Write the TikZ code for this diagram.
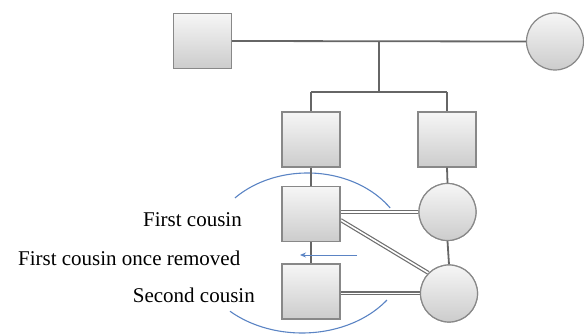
\documentclass[tikz,border=0pt]{standalone}
\usepackage{fontspec}
\setmainfont{Liberation Serif}
\usetikzlibrary{arrows.meta,shadings}
\definecolor{edgegray}{HTML}{888888}
\definecolor{linkgray}{HTML}{666666}
\definecolor{dblgray}{HTML}{6E6E6E}
\definecolor{arcblue}{HTML}{5B84C4}
\tikzset{
  male/.style={rectangle, draw=edgegray, line width=1.2pt, minimum width=58pt, minimum height=55pt, inner sep=0pt, top color=gray!7, bottom color=gray!40},
  female/.style={circle, draw=edgegray, line width=1.2pt, minimum size=57pt, inner sep=0pt, top color=gray!7, bottom color=gray!40},
  link/.style={draw=linkgray, line width=1.8pt},
  marriage/.style={draw=dblgray, line width=1.2pt, double=white, double distance=1.6pt},
  bluearc/.style={draw=arcblue, line width=1.1pt},
  lbl/.style={anchor=base east, inner sep=0pt, font=\fontsize{21}{25}\selectfont}
}
\begin{document}
\begin{tikzpicture}[x=1pt,y=-1pt]
\useasboundingbox (0,0) rectangle (584,336);
% nodes
\node[male] (gp1) at (202.5,41) {};
\node[female] (gp2) at (555,41.5) {};
\node[male] (p1) at (311,139.5) {};
\node[male] (p2) at (447,139.5) {};
\node[male] (c1) at (311,214) {};
\node[female] (c2) at (447.5,212) {};
\node[male] (s1) at (311,291.5) {};
\node[female] (s2) at (449,293.5) {};
\coordinate (m1) at (379,41);
\coordinate (m2) at (379,92);
\coordinate (b1) at (311,92);
\coordinate (b2) at (447,92);
\coordinate (a1) at (357,255);
\coordinate (a2) at (300,255);
% blue arcs
\draw[bluearc] (307.5,253) ++(136.5:100pt and 80pt) arc[start angle=136.5, end angle=34.3, x radius=100pt, y radius=80pt];
\draw[bluearc] (302,253) ++(226.7:105pt and 80pt) arc[start angle=226.7, end angle=324, x radius=105pt, y radius=80pt];
% connectors
\draw[link] (gp1.east) -- (gp2.west);
\draw[link] (m1) -- (m2);
\draw[link] (b1) -- (b2);
\draw[link] (b1) -- (p1.north);
\draw[link] (b2) -- (p2.north);
\draw[link] (p1.south) -- (c1.north);
\draw[link] (c1.south) -- (s1.north);
\draw[link] (p2.south) -- (c2.north);
\draw[link] (c2.south) -- (s2.north);
\draw[marriage] (c1.east |- c2.west) -- (c2.west);
\draw[marriage] (s1.east |- s2.west) -- (s2.west);
\draw[marriage] ([yshift=-6pt]c1.east) -- (s2.north west);
% redraw nodes on top
\node[male] at (c1) {};
\node[male] at (s1) {};
\node[female] at (c2) {};
\node[female] at (s2) {};
% arrow
\draw[bluearc, line width=0.9pt, -{Stealth[length=6pt,width=5pt]}] (a1) -- (a2);
% labels
\node[lbl] (t1) at (242,227) {First cousin};
\node[lbl] (t2) at (240.5,265.5) {First cousin once removed};
\node[lbl] (t3) at (255,303) {Second cousin};
\end{tikzpicture}
\end{document}
